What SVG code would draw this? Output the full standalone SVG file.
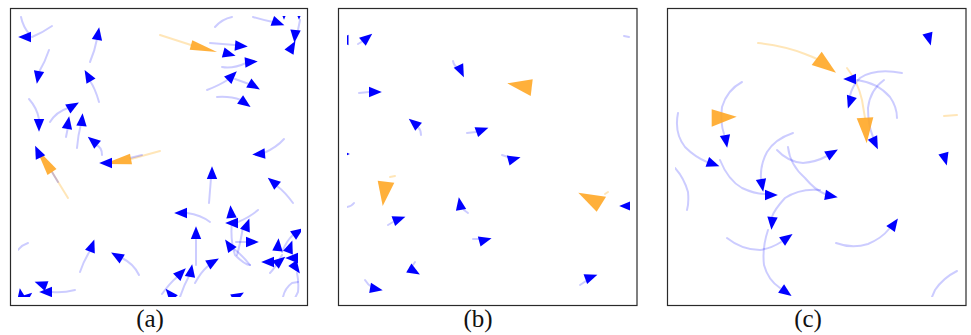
<svg xmlns="http://www.w3.org/2000/svg" xmlns:xlink="http://www.w3.org/1999/xlink" width="971" height="335" viewBox="0 0 971 335">
<style>
.frame{fill:#fff;stroke:#2a2a2a;stroke-width:1.2}
.bt{fill:none;stroke:#0000ff;stroke-opacity:0.2;stroke-width:2;stroke-linecap:round}
.ot{fill:none;stroke:#ffa500;stroke-opacity:0.28;stroke-width:2;stroke-linecap:round}
.b{fill:#0000ff}
.o{fill:#ffa520;fill-opacity:0.88}
.lbl{font-family:"Liberation Serif","DejaVu Serif",serif;font-size:25px;fill:#111;text-anchor:middle}
</style>
<defs>
<path id="bt" class="b" d="M6.8,0 L-6,-5.2 L-6,5.2 Z"/>
<clipPath id="ca"><rect x="18" y="16" width="283" height="281"/></clipPath>
<clipPath id="cb"><rect x="347" y="16" width="283" height="281"/></clipPath>
<clipPath id="cc"><rect x="675" y="16" width="283" height="281"/></clipPath>
</defs>
<rect width="971" height="335" fill="#fff"/>

<g id="panel-a">
<rect class="frame" x="10.5" y="8.5" width="297" height="297"/>
<g clip-path="url(#ca)">
<g id="a-trails">
<path class="bt" d="M52,26 Q42,33 32,37"/>
<path class="bt" d="M21,17 Q23,27 30,35"/>
<path class="bt" d="M90,62 Q95,50 97,39"/>
<path class="bt" d="M49,50 Q45,62 39,72"/>
<path class="bt" d="M99,102 Q95,88 90,81"/>
<path class="bt" d="M50,122 Q56,112 68,108"/>
<path class="bt" d="M29,99 Q37,108 39,119"/>
<path class="bt" d="M66,137 L68,127"/>
<path class="bt" d="M77,148 Q78,135 81,124"/>
<path class="bt" d="M102,155 Q102,147 96,145"/>
<path class="ot" d="M52,172 L68,198"/>
<path class="ot" d="M131,159 L160,151"/>
<path class="ot" d="M160,35 L191,45"/>
<path class="bt" d="M130,158 L142,155"/>
<path class="bt" d="M52,172 L58,182"/>
<path class="bt" d="M210,43 L235,45"/>
<path class="bt" d="M222,67 Q233,69 246,63"/>
<path class="bt" d="M207,90 Q220,85 229,79"/>
<path class="bt" d="M235,79 L249,84"/>
<path class="bt" d="M217,97 Q230,96 241,100"/>
<path class="bt" d="M284,139 Q277,147 264,153"/>
<path class="bt" d="M253,17 Q263,20 273,22"/>
<path class="bt" d="M215,27 Q222,19 232,17"/>
<path class="bt" d="M300,20 L298,30"/>
<path class="bt" d="M209,203 L211,178"/>
<path class="bt" d="M293,203 Q285,192 277,186"/>
<path class="bt" d="M210,222 Q201,215 187,213"/>
<path class="bt" d="M258,210 Q250,217 238,222"/>
<path class="bt" d="M243,227 Q240,245 237,255"/>
<path class="bt" d="M232,221 Q230,240 235,255 Q245,265 250,265"/>
<path class="bt" d="M236,242 L247,242"/>
<path class="bt" d="M250,265 Q242,255 234,249"/>
<path class="bt" d="M196,265 L196,240"/>
<path class="bt" d="M80,272 Q84,260 90,251"/>
<path class="bt" d="M139,275 Q134,264 122,258"/>
<path class="bt" d="M195,283 Q201,272 208,266"/>
<path class="bt" d="M180,297 Q184,285 189,276"/>
<path class="bt" d="M162,294 Q170,283 177,277"/>
<path class="bt" d="M75,290 Q63,293 52,292"/>
<path class="bt" d="M18,250 Q22,245 28,243"/>
<path class="bt" d="M282,255 Q275,268 270,273"/>
<path class="bt" d="M297,273 Q299,282 298,292 L295,298"/>
<path class="bt" d="M283,297 Q285,288 292,283 L298,282"/>
<path class="bt" d="M282,252 Q287,240 293,235"/>
</g>
<g id="a-orange">
<polygon class="o" points="36,148 56.5,169 47.5,175"/>
<polygon class="o" points="104,164 132,164.3 130,153.7"/>
<polygon class="o" points="217,52 189.7,49.8 192.3,40.2"/>
</g>
<g id="a-agents">
<use href="#bt" transform="translate(25,37) rotate(180)"/>
<use href="#bt" transform="translate(98,34) rotate(-80)"/>
<use href="#bt" transform="translate(38,77) rotate(100)"/>
<use href="#bt" transform="translate(88,76) rotate(-120)"/>
<use href="#bt" transform="translate(73,106) rotate(-30)"/>
<use href="#bt" transform="translate(39,125) rotate(90)"/>
<use href="#bt" transform="translate(68,123) rotate(-80)"/>
<use href="#bt" transform="translate(82,120) rotate(-85)"/>
<use href="#bt" transform="translate(93,141) rotate(-140)"/>
<use href="#bt" transform="translate(38,152) rotate(-115)"/>
<use href="#bt" transform="translate(106,163) rotate(180)"/>
<use href="#bt" transform="translate(229,54) rotate(15)"/>
<use href="#bt" transform="translate(241,46) rotate(5)"/>
<use href="#bt" transform="translate(251,62) rotate(-5)"/>
<use href="#bt" transform="translate(232,76) rotate(-45)"/>
<use href="#bt" transform="translate(254,86) rotate(30)"/>
<use href="#bt" transform="translate(245,103) rotate(35)"/>
<use href="#bt" transform="translate(259,154) rotate(175)"/>
<use href="#bt" transform="translate(278,23) rotate(20)"/>
<use href="#bt" transform="translate(284,13) rotate(90)"/>
<use href="#bt" transform="translate(299,13) rotate(90)"/>
<use href="#bt" transform="translate(295,36) rotate(95)"/>
<use href="#bt" transform="translate(292,47) rotate(-60)"/>
<use href="#bt" transform="translate(212,173) rotate(-90)"/>
<use href="#bt" transform="translate(273,182) rotate(-140)"/>
<use href="#bt" transform="translate(181,213) rotate(180)"/>
<use href="#bt" transform="translate(231,212) rotate(-95)"/>
<use href="#bt" transform="translate(232,223) rotate(180)"/>
<use href="#bt" transform="translate(247,225) rotate(-70)"/>
<use href="#bt" transform="translate(252,242) rotate(0)"/>
<use href="#bt" transform="translate(229,245) rotate(-125)"/>
<use href="#bt" transform="translate(196,233) rotate(-90)"/>
<use href="#bt" transform="translate(92,246) rotate(-70)"/>
<use href="#bt" transform="translate(117,256) rotate(-150)"/>
<use href="#bt" transform="translate(213,262) rotate(-30)"/>
<use href="#bt" transform="translate(191,271) rotate(-80)"/>
<use href="#bt" transform="translate(181,273) rotate(-45)"/>
<use href="#bt" transform="translate(170,294) rotate(-130)"/>
<use href="#bt" transform="translate(238,296) rotate(-30)"/>
<use href="#bt" transform="translate(41,284) rotate(-160)"/>
<use href="#bt" transform="translate(46,292) rotate(180)"/>
<use href="#bt" transform="translate(21,295) rotate(-100)"/>
<use href="#bt" transform="translate(27,297) rotate(-40)"/>
<use href="#bt" transform="translate(298,232) rotate(-35)"/>
<use href="#bt" transform="translate(278,245) rotate(-85)"/>
<use href="#bt" transform="translate(290,247) rotate(-70)"/>
<use href="#bt" transform="translate(268,262) rotate(180)"/>
<use href="#bt" transform="translate(280,261) rotate(-40)"/>
<use href="#bt" transform="translate(292,258) rotate(180)"/>
<use href="#bt" transform="translate(296,268) rotate(55)"/>
</g>
</g>
<text class="lbl" x="150" y="327">(a)</text>
</g>

<g id="panel-b">
<rect class="frame" x="338.5" y="8.5" width="298.5" height="297"/>
<g clip-path="url(#cb)">
<g id="b-trails">
<path class="bt" d="M358,44 L363,41"/>
<path class="bt" d="M453,61 Q454,66 458,68"/>
<path class="bt" d="M359,93 L369,92"/>
<path class="bt" d="M421,135 Q421,130 418,127"/>
<path class="bt" d="M467,133 L476,132"/>
<path class="bt" d="M502,155 L508,157"/>
<path class="bt" d="M624,36 L629,37"/>
<path class="bt" d="M388,225 L393,222"/>
<path class="bt" d="M464,210 L468,213"/>
<path class="bt" d="M473,239 L479,239"/>
<path class="bt" d="M415,262 L413,265"/>
<path class="bt" d="M365,280 Q368,285 372,287"/>
<path class="bt" d="M580,285 L586,281"/>
<path class="bt" d="M347,207 Q352,206 354,203"/>
<path class="ot" d="M390,177 L395,176"/>
<path class="ot" d="M605,194 L608,192"/>
</g>
<g id="b-orange">
<polygon class="o" points="507.3,83.3 532.7,79.3 530.7,96"/>
<polygon class="o" points="377.7,180.7 394.3,182.7 382.7,206"/>
<polygon class="o" points="578.3,192.7 606,196.7 596.7,211.7"/>
</g>
<g id="b-agents">
<use href="#bt" transform="translate(342.5,40) rotate(180)"/>
<use href="#bt" transform="translate(367,38) rotate(-40)"/>
<use href="#bt" transform="translate(461,71) rotate(65)"/>
<use href="#bt" transform="translate(375,92) rotate(0)"/>
<use href="#bt" transform="translate(414,123) rotate(-140)"/>
<use href="#bt" transform="translate(482,130) rotate(-20)"/>
<use href="#bt" transform="translate(343,154) rotate(0)"/>
<use href="#bt" transform="translate(514,159) rotate(-15)"/>
<use href="#bt" transform="translate(626,206) rotate(180)"/>
<use href="#bt" transform="translate(399,219) rotate(-20)"/>
<use href="#bt" transform="translate(460,204) rotate(-100)"/>
<use href="#bt" transform="translate(485,240) rotate(-15)"/>
<use href="#bt" transform="translate(414,271) rotate(30)"/>
<use href="#bt" transform="translate(376,289) rotate(10)"/>
<use href="#bt" transform="translate(591,277) rotate(-20)"/>
</g>
</g>
<text class="lbl" x="478" y="327">(b)</text>
</g>

<g id="panel-c">
<rect class="frame" x="667.5" y="8.5" width="298.5" height="297"/>
<g clip-path="url(#cc)">
<g id="c-trails">
<path class="ot" d="M758,43 Q785,46 805,54 Q813,57 817,59"/>
<path class="ot" d="M847,68 Q858,82 862,100 L865,118"/>
<path class="ot" d="M944,116 L957,115"/>
<path class="bt" d="M902,73 Q875,68 860,78 Q852,86 850,96"/>
<path class="bt" d="M884,80 Q870,90 868,108 Q868,125 873,137"/>
<path class="bt" d="M857,80 Q878,83 890,97 Q897,107 897,118"/>
<path class="bt" d="M742,82 Q727,90 722,107 Q720,122 724,134"/>
<path class="bt" d="M678,113 Q674,133 685,147 Q695,157 707,162"/>
<path class="bt" d="M793,133 Q775,139 767,152 Q760,165 761,179"/>
<path class="bt" d="M777,150 Q788,162 803,163 Q816,162 827,156"/>
<path class="bt" d="M788,147 Q790,165 805,178 Q815,190 825,194"/>
<path class="bt" d="M720,160 Q728,180 742,188 Q755,194 765,194"/>
<path class="bt" d="M820,190 Q800,188 785,198 Q774,210 772,217"/>
<path class="bt" d="M727,238 Q742,250 760,250 Q772,248 781,242"/>
<path class="bt" d="M768,230 Q762,248 764,265 Q768,280 780,288"/>
<path class="bt" d="M836,243 Q852,249 868,244 Q882,238 889,229"/>
<path class="bt" d="M957,271 Q943,278 935,290 L932,297"/>
<path class="bt" d="M675,168 Q684,178 688,192 Q689,203 687,210"/>
</g>
<g id="c-orange">
<polygon class="o" points="821.7,51.7 811.7,65 836,72.7"/>
<polygon class="o" points="711.7,109.3 711.7,126.7 736.7,116.7"/>
<polygon class="o" points="856.7,118.3 873.3,117.3 866.7,143.3"/>
</g>
<g id="c-agents">
<use href="#bt" transform="translate(850,79) rotate(180)"/>
<use href="#bt" transform="translate(850,102) rotate(108)"/>
<use href="#bt" transform="translate(875,143) rotate(65)"/>
<use href="#bt" transform="translate(929,39) rotate(75)"/>
<use href="#bt" transform="translate(945,159) rotate(75)"/>
<use href="#bt" transform="translate(726,141) rotate(80)"/>
<use href="#bt" transform="translate(713,164) rotate(20)"/>
<use href="#bt" transform="translate(762,185) rotate(80)"/>
<use href="#bt" transform="translate(832,153) rotate(-30)"/>
<use href="#bt" transform="translate(831,196) rotate(10)"/>
<use href="#bt" transform="translate(771,195) rotate(0)"/>
<use href="#bt" transform="translate(772,223) rotate(95)"/>
<use href="#bt" transform="translate(787,238) rotate(-35)"/>
<use href="#bt" transform="translate(786,292) rotate(35)"/>
<use href="#bt" transform="translate(894,224) rotate(-55)"/>
</g>
</g>
<text class="lbl" x="808" y="327">(c)</text>
</g>
</svg>
